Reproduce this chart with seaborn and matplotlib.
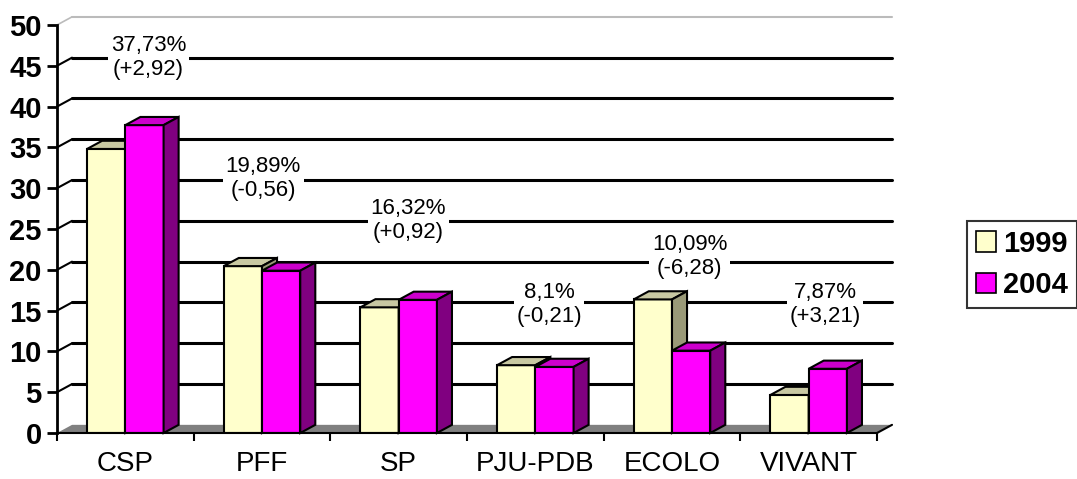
import pandas as pd
import seaborn as sns
import matplotlib.pyplot as plt
from matplotlib.patches import Polygon, Rectangle

parties = ['CSP', 'PFF', 'SP', 'PJU-PDB', 'ECOLO', 'VIVANT']
votes_1999 = [34.81, 20.45, 15.40, 8.31, 16.37, 4.66]
votes_2004 = [37.73, 19.89, 16.32, 8.10, 10.09, 7.87]
label_pct = ['37,73%', '19,89%', '16,32%', '8,1%', '10,09%', '7,87%']
label_diff = ['(+2,92)', '(-0,56)', '(+0,92)', '(-0,21)', '(-6,28)', '(+3,21)']

# where the data labels sit (category offset, value)
label_dx = [0.17, 0.01, 0.07, 0.10, 0.13, 0.12]
label_y = [46.0, 31.2, 26.0, 15.7, 21.6, 15.7]

df = pd.DataFrame({
    'party': parties * 2,
    'year': ['1999'] * 6 + ['2004'] * 6,
    'value': votes_1999 + votes_2004,
})

front = {'1999': '#FFFFCC', '2004': '#FF00FF'}
top = {'1999': '#C8C8A2', '2004': '#CC00CC'}
side = {'1999': '#9A9A78', '2004': '#800080'}

sns.set_style('white')
plt.rcParams['font.family'] = ['Liberation Sans', 'DejaVu Sans']
plt.rcParams['text.color'] = 'black'
plt.rcParams['xtick.color'] = 'black'
plt.rcParams['ytick.color'] = 'black'

fig = plt.figure(figsize=(10.77, 4.79), dpi=100)
ax = fig.add_axes([57 / 1077, 46 / 479, 820 / 1077, 408 / 479])

dx, dy = 0.11, 1.0  # 3d depth in data units

# back wall grid lines
for v in range(5, 50, 5):
    ax.plot([-0.5 + dx, 5.5 + dx], [v + dy, v + dy], color='black', lw=2.2, zorder=1, clip_on=False)
    ax.plot([-0.5, -0.5 + dx], [v, v + dy], color='black', lw=1.5, zorder=1, clip_on=False)
ax.plot([-0.5 + dx, 5.5 + dx], [50 + dy, 50 + dy], color='#BBBBBB', lw=1.5, zorder=1, clip_on=False)
ax.plot([-0.5, -0.5 + dx], [50, 50 + dy], color='#BBBBBB', lw=1.2, zorder=1, clip_on=False)

# floor
ax.add_patch(Polygon([(-0.5, 0), (5.5, 0), (5.5 + dx, dy), (-0.5 + dx, dy)],
                     closed=True, facecolor='#808080', edgecolor='none', zorder=1.5, clip_on=False))
ax.plot([5.5, 5.5 + dx], [0, dy], color='black', lw=1.5, zorder=1.6, clip_on=False)

sns.barplot(data=df, x='party', y='value', hue='year', palette=front, width=0.56, saturation=1,
            edgecolor='black', linewidth=1.5, ax=ax, legend=False)

for i, (year, cont) in enumerate(zip(['1999', '2004'], ax.containers)):
    z = 3 + i
    for bar in cont:
        x0, w, h = bar.get_x(), bar.get_width(), bar.get_height()
        bar.set_zorder(z)
        ax.add_patch(Polygon([(x0, h), (x0 + dx, h + dy), (x0 + w + dx, h + dy), (x0 + w, h)],
                             closed=True, facecolor=top[year], edgecolor='black', lw=1.5,
                             zorder=z, clip_on=False))
        ax.add_patch(Polygon([(x0 + w, 0), (x0 + w + dx, dy), (x0 + w + dx, h + dy), (x0 + w, h)],
                             closed=True, facecolor=side[year], edgecolor='black', lw=1.5,
                             zorder=z, clip_on=False))

for i in range(len(parties)):
    ax.text(i + label_dx[i], label_y[i], label_pct[i] + '\n' + label_diff[i],
            ha='center', va='center', fontsize=16, linespacing=1.2, zorder=6,
            bbox=dict(facecolor='white', edgecolor='none', pad=2))

ax.set_xlim(-0.5, 5.5)
ax.set_ylim(0, 50)
ax.set_yticks(range(0, 51, 5))
ax.set_xlabel('')
ax.set_ylabel('')
ax.set_xticks(range(6))
ax.set_xticklabels(parties, fontsize=20)
ax.set_xticks([i - 0.5 for i in range(7)], minor=True)
ax.tick_params(axis='x', which='major', length=0, pad=13)
ax.tick_params(axis='x', which='minor', length=6, width=1.5, direction='out', bottom=True)
ax.tick_params(axis='y', length=7, width=2, direction='out', left=True, pad=4)
for t in ax.get_yticklabels():
    t.set_fontsize(21)
    t.set_fontweight('bold')

for s in ['top', 'right']:
    ax.spines[s].set_visible(False)
ax.spines['left'].set_color('black')
ax.spines['left'].set_linewidth(2)
ax.spines['bottom'].set_color('black')
ax.spines['bottom'].set_linewidth(1.5)
ax.spines['bottom'].set_zorder(5)

handles = [Rectangle((0, 0), 1, 1, facecolor=front[y], edgecolor='black', lw=1.2) for y in ['1999', '2004']]
leg = fig.legend(handles, ['1999', '2004'], loc='center left', bbox_to_anchor=(967 / 1077, 0.448),
                 prop={'size': 21, 'weight': 'bold'}, frameon=True, fancybox=False,
                 handlelength=0.7, handleheight=0.7, handletextpad=0.25, borderpad=0.3,
                 labelspacing=0.45, borderaxespad=0)
leg.get_frame().set_edgecolor('black')
leg.get_frame().set_linewidth(1.5)

fig.savefig('out.png', dpi=100)
